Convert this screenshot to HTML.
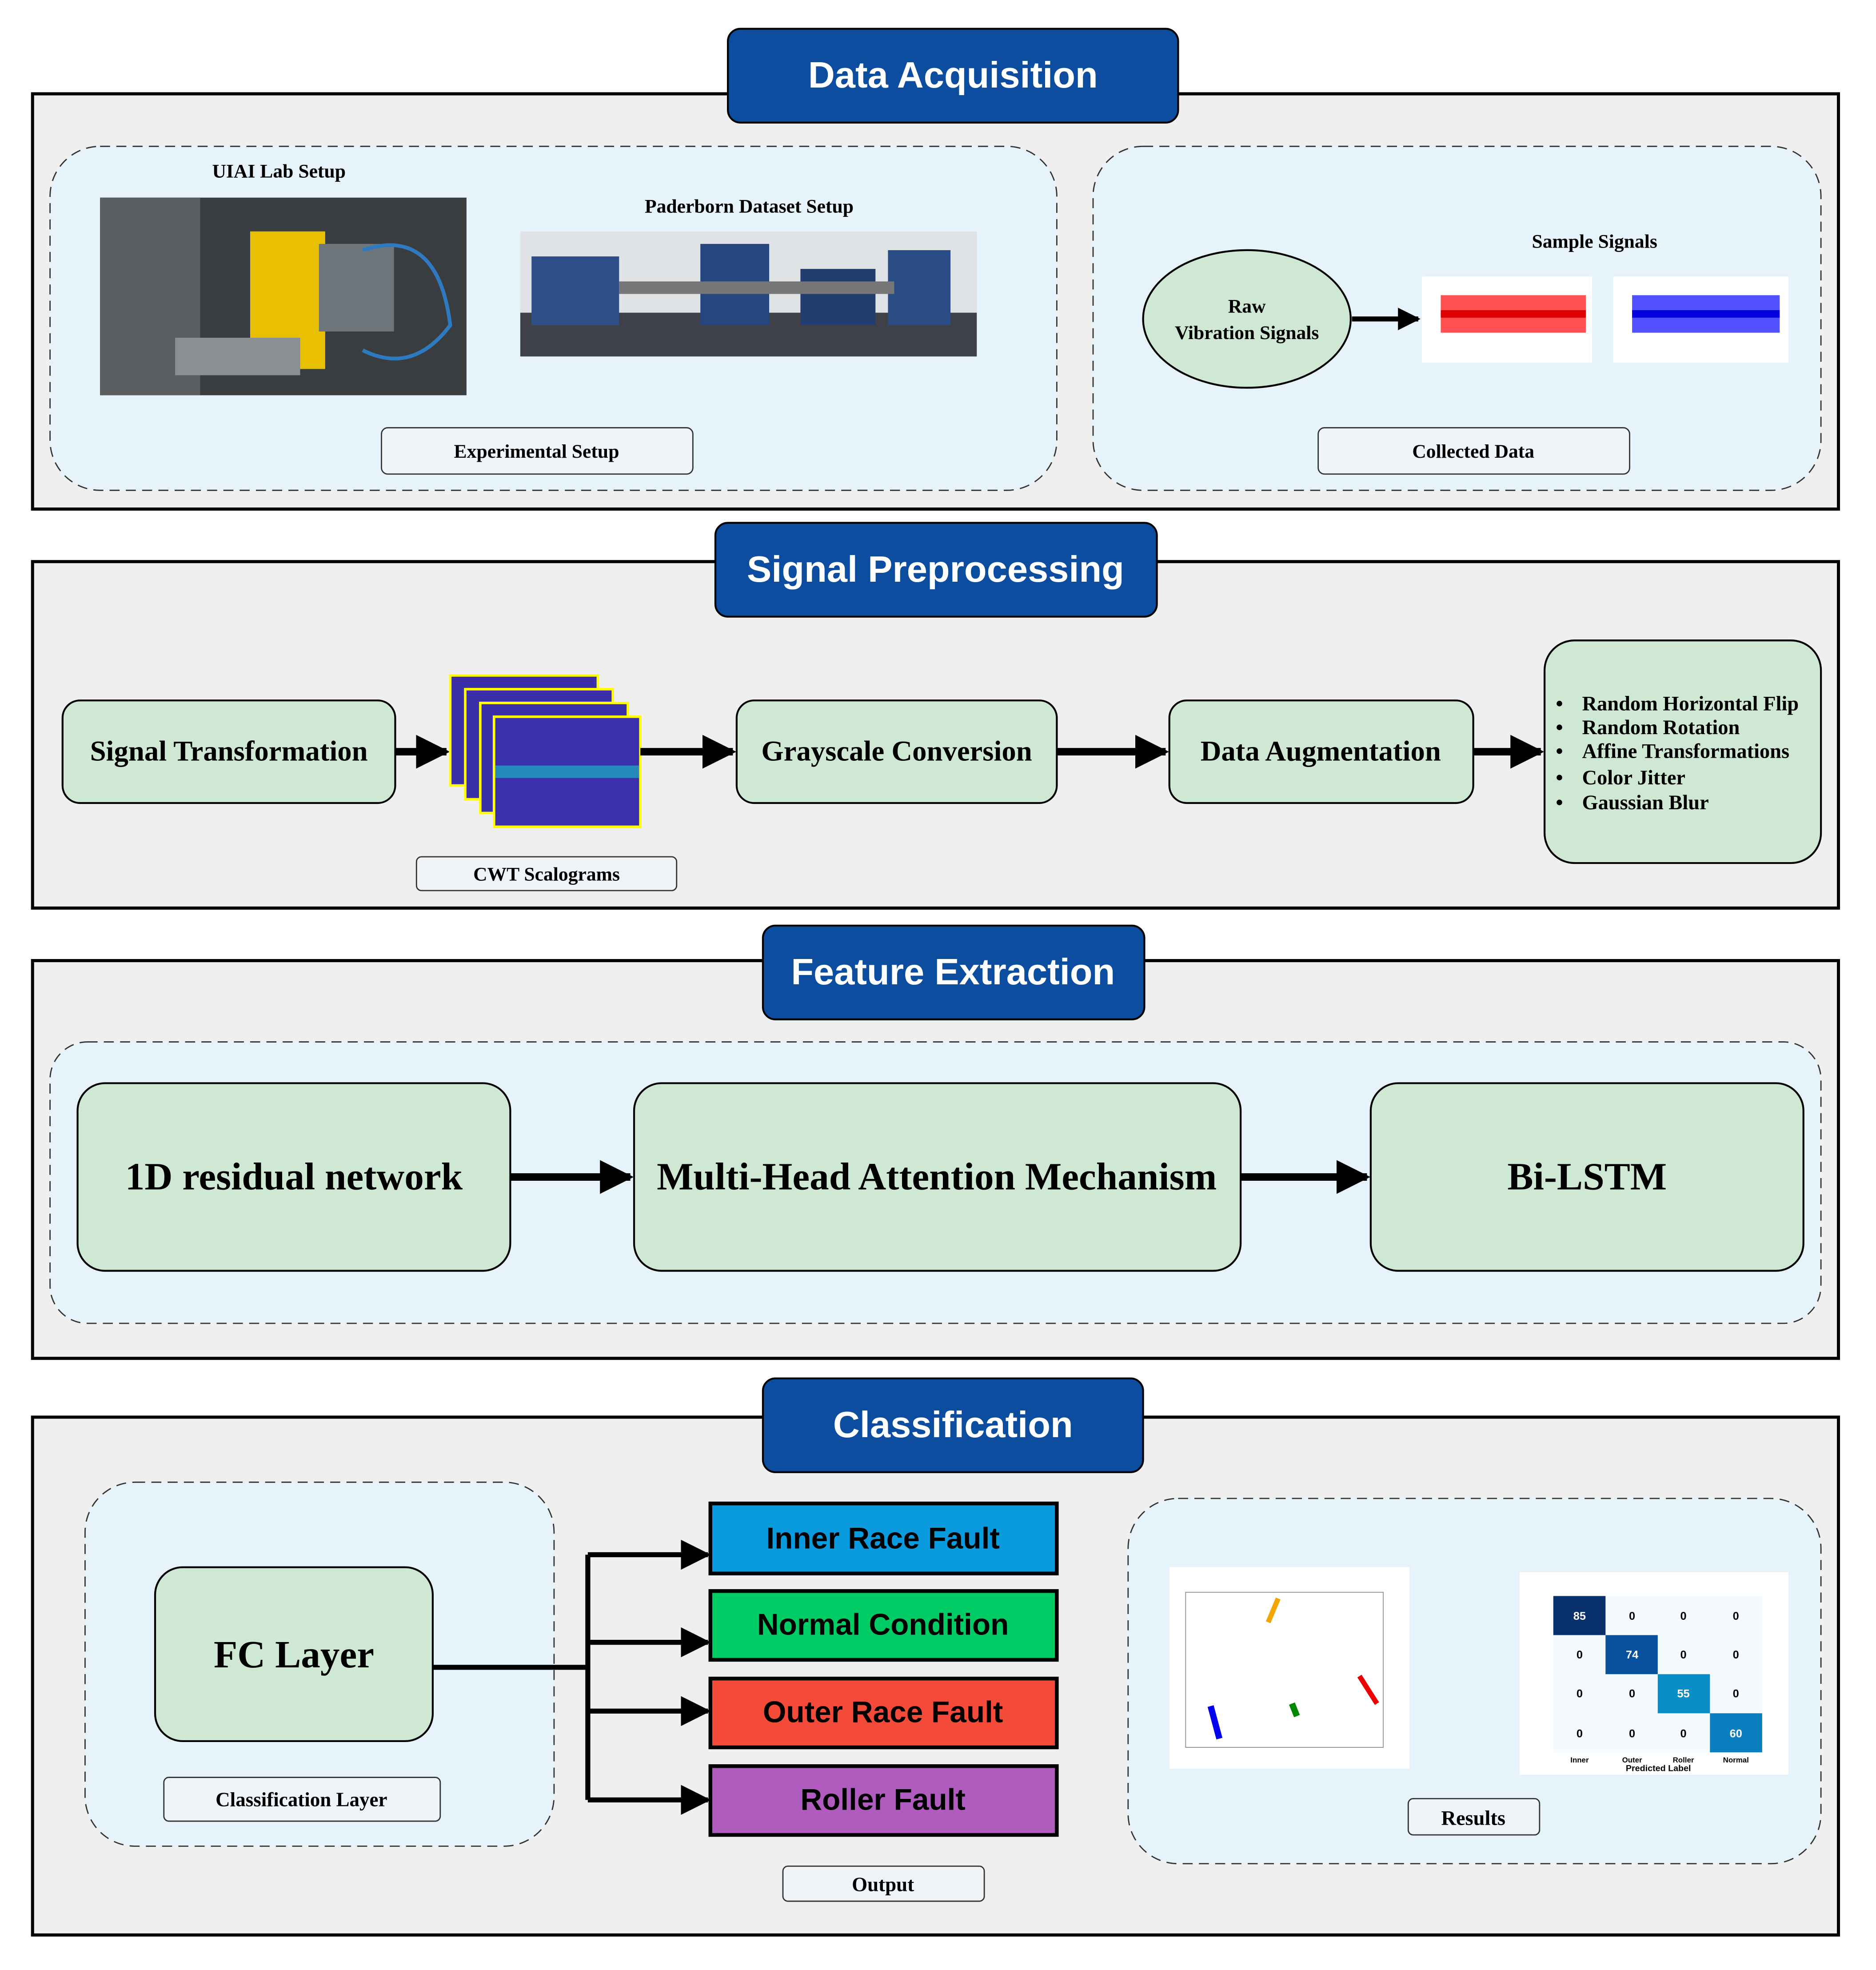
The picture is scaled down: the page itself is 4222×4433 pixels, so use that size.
<!DOCTYPE html>
<html><head><meta charset="utf-8"><style>
html,body{margin:0;padding:0;background:#fff}
svg{display:block}
.t{font-family:"Liberation Sans",sans-serif;font-weight:bold;fill:#fff;text-anchor:middle}
.s{font-family:"Liberation Serif",serif;font-weight:bold;fill:#000;text-anchor:middle}
.o{font-family:"Liberation Sans",sans-serif;font-weight:bold;fill:#000;text-anchor:middle}
</style></head><body>
<svg width="4222" height="4433" viewBox="0 0 1500 1575" xmlns="http://www.w3.org/2000/svg">
<defs>
<marker id="a" viewBox="0 0 10 10" refX="9" refY="5" markerWidth="4.5" markerHeight="4.5" orient="auto"><path d="M0,0 L10,5 L0,10 z" fill="#000"/></marker>
<marker id="b" viewBox="0 0 10 10" refX="9" refY="5" markerWidth="6" markerHeight="6" orient="auto"><path d="M0,0 L10,5 L0,10 z" fill="#000"/></marker>
</defs>
<rect width="1500" height="1575" fill="#fff"/>
<!-- Section 1 -->
<rect x="26" y="75" width="1444" height="332" fill="#efefef" stroke="#000" stroke-width="2.5"/>
<rect x="40" y="117" width="805" height="275" rx="40" fill="#e6f3fb" stroke="#333" stroke-dasharray="8,5"/>
<rect x="874" y="117" width="582" height="275" rx="40" fill="#e6f3fb" stroke="#333" stroke-dasharray="8,5"/>
<rect x="582" y="23" width="360" height="75" rx="10" fill="#0c4da0" stroke="#000" stroke-width="1.5"/>
<text class="t" x="762" y="70" font-size="29.5">Data Acquisition</text>
<text class="s" x="223" y="142" font-size="15.5">UIAI Lab Setup</text>
<rect x="80" y="158" width="293" height="158" fill="#3a3d40"/>
<rect x="80" y="158" width="80" height="158" fill="#5a5e60"/>
<rect x="200" y="185" width="60" height="110" fill="#e8c000"/>
<rect x="255" y="195" width="60" height="70" fill="#6d767a"/>
<rect x="140" y="270" width="100" height="30" fill="#8a8f92"/>
<path d="M290,200 Q350,180 360,260 Q330,300 290,280" stroke="#2d7ac0" stroke-width="3" fill="none"/>
<text class="s" x="599" y="170" font-size="15.5">Paderborn Dataset Setup</text>
<rect x="416" y="185" width="365" height="100" fill="#dfe3e6"/>
<rect x="416" y="250" width="365" height="35" fill="#3e4248"/>
<rect x="425" y="205" width="70" height="55" fill="#2c4f8a"/>
<rect x="560" y="195" width="55" height="65" fill="#25467e"/>
<rect x="640" y="215" width="60" height="45" fill="#223d70"/>
<rect x="710" y="200" width="50" height="60" fill="#2a4c86"/>
<rect x="495" y="225" width="220" height="10" fill="#777"/>
<rect x="305" y="342" width="249" height="37" rx="5" fill="#eef4f8" stroke="#333"/>
<text class="s" x="429" y="366" font-size="15.5">Experimental Setup</text>
<text class="s" x="1275" y="198" font-size="15.5">Sample Signals</text>
<ellipse cx="997" cy="255" rx="83" ry="55" fill="#cfe8d3" stroke="#000" stroke-width="1.5"/>
<text class="s" x="997" y="250" font-size="15.5">Raw</text>
<text class="s" x="997" y="271" font-size="15.5">Vibration Signals</text>
<line x1="1081" y1="255" x2="1134" y2="255" stroke="#000" stroke-width="4" marker-end="url(#a)"/>
<rect x="1137" y="221" width="136" height="69" fill="#fff"/>
<rect x="1152" y="236" width="116" height="30" fill="#f33" opacity="0.85"/>
<line x1="1152" y1="251" x2="1268" y2="251" stroke="#d00" stroke-width="6"/>
<rect x="1290" y="221" width="140" height="69" fill="#fff"/>
<rect x="1305" y="236" width="118" height="30" fill="#33f" opacity="0.85"/>
<line x1="1305" y1="251" x2="1423" y2="251" stroke="#00d" stroke-width="6"/>
<rect x="1054" y="342" width="249" height="37" rx="5" fill="#eef4f8" stroke="#333"/>
<text class="s" x="1178" y="366" font-size="15.5">Collected Data</text>
<!-- Section 2 -->
<rect x="26" y="449" width="1444" height="277" fill="#efefef" stroke="#000" stroke-width="2.5"/>
<rect x="572" y="418" width="353" height="75" rx="10" fill="#0c4da0" stroke="#000" stroke-width="1.5"/>
<text class="t" x="748" y="465" font-size="29.5">Signal Preprocessing</text>
<rect x="50" y="560" width="266" height="82" rx="14" fill="#cfe8d3" stroke="#000" stroke-width="1.5"/>
<text class="s" x="183" y="608" font-size="23">Signal Transformation</text>
<line x1="316" y1="601" x2="357" y2="601" stroke="#000" stroke-width="6" marker-end="url(#a)"/>
<rect x="360" y="540" width="118" height="88" fill="#3a2fa8" stroke="#ff0" stroke-width="2"/>
<rect x="372" y="551" width="118" height="88" fill="#3a2fa8" stroke="#ff0" stroke-width="2"/>
<rect x="384" y="562" width="118" height="88" fill="#3a2fa8" stroke="#ff0" stroke-width="2"/>
<rect x="395" y="573" width="117" height="88" fill="#3b30ac" stroke="#ff0" stroke-width="2"/>
<rect x="396" y="612" width="115" height="10" fill="#22a0c0" opacity="0.8"/>
<line x1="512" y1="601" x2="586" y2="601" stroke="#000" stroke-width="6" marker-end="url(#a)"/>
<rect x="333" y="685" width="208" height="27" rx="4" fill="#eef4f8" stroke="#333"/>
<text class="s" x="437" y="704" font-size="15.5">CWT Scalograms</text>
<rect x="589" y="560" width="256" height="82" rx="14" fill="#cfe8d3" stroke="#000" stroke-width="1.5"/>
<text class="s" x="717" y="608" font-size="23">Grayscale Conversion</text>
<line x1="845" y1="601" x2="932" y2="601" stroke="#000" stroke-width="6" marker-end="url(#a)"/>
<rect x="935" y="560" width="243" height="82" rx="14" fill="#cfe8d3" stroke="#000" stroke-width="1.5"/>
<text class="s" x="1056" y="608" font-size="23">Data Augmentation</text>
<line x1="1178" y1="601" x2="1232" y2="601" stroke="#000" stroke-width="6" marker-end="url(#a)"/>
<rect x="1235" y="512" width="221" height="178" rx="24" fill="#cfe8d3" stroke="#000" stroke-width="1.5"/>
<g font-family="Liberation Serif,serif" font-weight="bold" font-size="16.5">
<text x="1244" y="568">•</text><text x="1265" y="568">Random Horizontal Flip</text>
<text x="1244" y="587">•</text><text x="1265" y="587">Random Rotation</text>
<text x="1244" y="606">•</text><text x="1265" y="606">Affine Transformations</text>
<text x="1244" y="627">•</text><text x="1265" y="627">Color Jitter</text>
<text x="1244" y="647">•</text><text x="1265" y="647">Gaussian Blur</text>
</g>
<!-- Section 3 -->
<rect x="26" y="768" width="1444" height="318" fill="#efefef" stroke="#000" stroke-width="2.5"/>
<rect x="40" y="833" width="1416" height="225" rx="30" fill="#e6f3fb" stroke="#333" stroke-dasharray="8,5"/>
<rect x="610" y="740" width="305" height="75" rx="10" fill="#0c4da0" stroke="#000" stroke-width="1.5"/>
<text class="t" x="762" y="787" font-size="29.5">Feature Extraction</text>
<rect x="62" y="866" width="346" height="150" rx="22" fill="#cfe8d3" stroke="#000" stroke-width="1.5"/>
<text class="s" x="235" y="951" font-size="31">1D residual network</text>
<line x1="408" y1="941" x2="504" y2="941" stroke="#000" stroke-width="6" marker-end="url(#a)"/>
<rect x="507" y="866" width="485" height="150" rx="22" fill="#cfe8d3" stroke="#000" stroke-width="1.5"/>
<text class="s" x="749" y="951" font-size="31">Multi-Head Attention Mechanism</text>
<line x1="992" y1="941" x2="1093" y2="941" stroke="#000" stroke-width="6" marker-end="url(#a)"/>
<rect x="1096" y="866" width="346" height="150" rx="22" fill="#cfe8d3" stroke="#000" stroke-width="1.5"/>
<text class="s" x="1269" y="951" font-size="31">Bi-LSTM</text>
<!-- Section 4 -->
<rect x="26" y="1133" width="1444" height="414" fill="#efefef" stroke="#000" stroke-width="2.5"/>
<rect x="68" y="1185" width="375" height="291" rx="40" fill="#e6f3fb" stroke="#333" stroke-dasharray="8,5"/>
<rect x="902" y="1198" width="554" height="292" rx="40" fill="#e6f3fb" stroke="#333" stroke-dasharray="8,5"/>
<rect x="610" y="1102" width="304" height="75" rx="10" fill="#0c4da0" stroke="#000" stroke-width="1.5"/>
<text class="t" x="762" y="1149" font-size="29.5">Classification</text>
<rect x="124" y="1253" width="222" height="139" rx="22" fill="#cfe8d3" stroke="#000" stroke-width="1.5"/>
<text class="s" x="235" y="1333" font-size="31">FC Layer</text>
<rect x="131" y="1421" width="221" height="35" rx="4" fill="#eef4f8" stroke="#333"/>
<text class="s" x="241" y="1444" font-size="16">Classification Layer</text>
<path d="M346,1333 H470 M470,1243 V1439" stroke="#000" stroke-width="4" fill="none"/>
<g stroke="#000" stroke-width="4" marker-end="url(#b)">
<line x1="470" y1="1243" x2="566" y2="1243"/>
<line x1="470" y1="1313" x2="566" y2="1313"/>
<line x1="470" y1="1368" x2="566" y2="1368"/>
<line x1="470" y1="1439" x2="566" y2="1439"/>
</g>
<rect x="568" y="1202" width="277" height="56" fill="#0a9ade" stroke="#000" stroke-width="3"/>
<text class="o" x="706" y="1238" font-size="24">Inner Race Fault</text>
<rect x="568" y="1272" width="277" height="55" fill="#00cc66" stroke="#000" stroke-width="3"/>
<text class="o" x="706" y="1307" font-size="24">Normal Condition</text>
<rect x="568" y="1342" width="277" height="55" fill="#f44a3a" stroke="#000" stroke-width="3"/>
<text class="o" x="706" y="1377" font-size="24">Outer Race Fault</text>
<rect x="568" y="1412" width="277" height="55" fill="#b05cbf" stroke="#000" stroke-width="3"/>
<text class="o" x="706" y="1447" font-size="24">Roller Fault</text>
<rect x="626" y="1492" width="161" height="28" rx="4" fill="#eef4f8" stroke="#333"/>
<text class="s" x="706" y="1512" font-size="16">Output</text>
<rect x="935" y="1253" width="192" height="161" fill="#fff"/>
<rect x="948" y="1273" width="158" height="124" fill="none" stroke="#999" stroke-width="0.7"/>
<path d="M1014,1297 L1022,1278" stroke="#f5a500" stroke-width="4"/>
<path d="M1087,1340 L1101,1362" stroke="#e00" stroke-width="4"/>
<path d="M1033,1362 L1037,1372" stroke="#080" stroke-width="5"/>
<path d="M968,1364 L975,1390" stroke="#00e" stroke-width="5"/>
<rect x="1215" y="1257" width="215" height="162" fill="#fff"/>
<rect x="1242" y="1276" width="167" height="125" fill="#f5faff"/>
<rect x="1242" y="1276" width="41.75" height="31.25" fill="#08306b"/>
<rect x="1283.75" y="1307.25" width="41.75" height="31.25" fill="#08519c"/>
<rect x="1325.5" y="1338.5" width="41.75" height="31.25" fill="#0b8ec7"/>
<rect x="1367.25" y="1369.75" width="41.75" height="31.25" fill="#0a7fbf"/>
<g font-family="Liberation Sans,sans-serif" font-size="9" font-weight="bold" text-anchor="middle">
<text x="1263" y="1295" fill="#fff">85</text><text x="1305" y="1295">0</text><text x="1346" y="1295">0</text><text x="1388" y="1295">0</text>
<text x="1263" y="1326">0</text><text x="1305" y="1326" fill="#fff">74</text><text x="1346" y="1326">0</text><text x="1388" y="1326">0</text>
<text x="1263" y="1357">0</text><text x="1305" y="1357">0</text><text x="1346" y="1357" fill="#fff">55</text><text x="1388" y="1357">0</text>
<text x="1263" y="1389">0</text><text x="1305" y="1389">0</text><text x="1346" y="1389">0</text><text x="1388" y="1389" fill="#fff">60</text>
<text x="1263" y="1409" font-size="6">Inner</text><text x="1305" y="1409" font-size="6">Outer</text><text x="1346" y="1409" font-size="6">Roller</text><text x="1388" y="1409" font-size="6">Normal</text>
<text x="1326" y="1416" font-size="7">Predicted Label</text>
</g>
<rect x="1126" y="1438" width="105" height="29" rx="4" fill="#eef4f8" stroke="#333"/>
<text class="s" x="1178" y="1459" font-size="16.5">Results</text>
</svg>
</body></html>
